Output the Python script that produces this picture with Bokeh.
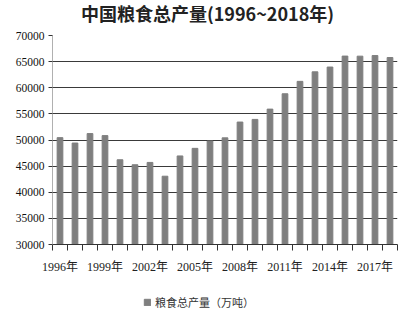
from bokeh.plotting import figure
from bokeh.models import FixedTicker, Legend, LegendItem, Range1d
from bokeh.core.properties import value
from bokeh.layouts import column
from bokeh.embed import file_html
from bokeh.resources import INLINE

years = list(range(1996, 2019))
output = [50454, 49417, 51230, 50839, 46218, 45264, 45706, 43070, 46947, 48402,
          49804, 50414, 53434, 53941, 55911, 58849, 61223, 63048, 63965, 66060,
          66044, 66161, 65789]
y_ticks = list(range(30000, 70001, 5000))
label_years = [1996, 1999, 2002, 2005, 2008, 2011, 2014, 2017]
title_text = "中国粮食总产量(1996~2018年)"
series_name = "粮食总产量（万吨）"
bar_color = "#7f7f7f"

idx = list(range(len(years)))

# title strip (its frame is aligned with the main frame: canvas x 52..397)
p0 = figure(width=409, height=24, output_backend="svg", toolbar_location=None,
            x_range=Range1d(52, 397), y_range=Range1d(0, 24),
            min_border_left=52, min_border_right=12, min_border_top=0, min_border_bottom=0)
p0.axis.visible = False
p0.grid.visible = False
p0.outline_line_color = None
p0.text(x=[207], y=[12], text=[title_text], text_align="center", text_baseline="middle",
        text_font=value("Noto Sans CJK SC"), text_font_size="18px", text_font_style="bold",
        text_color="#222222")

p = figure(width=409, height=256, output_backend="svg", toolbar_location=None,
           x_range=Range1d(-0.5, len(years) - 0.5), y_range=Range1d(30000, 70000),
           min_border_left=52, min_border_right=12, min_border_top=11, min_border_bottom=36)

p.vbar(x=idx, top=output, bottom=30000, width=0.38, color=bar_color)

p.outline_line_color = None
p.xgrid.grid_line_color = None
p.ygrid.grid_line_color = "#3a3a3a"
p.ygrid.grid_line_width = 1.2
p.yaxis.ticker = FixedTicker(ticks=y_ticks)
p.xaxis.ticker = FixedTicker(ticks=[years.index(y) for y in label_years],
                             minor_ticks=[i - 0.5 for i in range(len(years) + 1)])
p.xaxis.major_label_overrides = {years.index(y): f"{y}年" for y in label_years}
p.xaxis.major_tick_line_color = None
p.xaxis.minor_tick_out = 6
p.xaxis.minor_tick_in = 0
p.xaxis.minor_tick_line_color = "#333333"
p.xaxis.axis_line_color = "#333333"
p.xaxis.major_label_text_font = "Liberation Serif, Noto Sans CJK SC"
p.xaxis.major_label_text_font_size = "12px"
p.xaxis.major_label_text_color = "#222222"
p.xaxis.major_label_standoff = 9

p.yaxis.axis_line_color = "#b0b0b0"
p.yaxis.major_tick_out = 4
p.yaxis.major_tick_in = 0
p.yaxis.major_tick_line_color = "#333333"
p.yaxis.minor_tick_line_color = None
p.yaxis.major_label_text_font = "Liberation Serif"
p.yaxis.major_label_text_font_size = "11.5px"
p.yaxis.major_label_text_color = "#111111"
p.yaxis.major_label_standoff = 4

# legend strip below the chart (frame aligned with main frame, starting at canvas x 52)
p2 = figure(width=409, height=41, output_backend="svg", toolbar_location=None,
            x_range=Range1d(0, 1), y_range=Range1d(0, 1),
            min_border_left=52, min_border_right=12, min_border_top=0, min_border_bottom=0)
p2.axis.visible = False
p2.grid.visible = False
p2.outline_line_color = None
dummy = p2.vbar(x=[-5], top=[-5], width=0.5, color=bar_color)
legend = Legend(items=[LegendItem(label=series_name, renderers=[dummy])],
                orientation="horizontal", location=(91, 11),
                label_text_font="Noto Sans CJK SC", label_text_font_size="11px",
                label_text_color="#333333", glyph_width=8, glyph_height=8,
                label_standoff=4, padding=0, margin=0,
                border_line_color=None, background_fill_alpha=0)
p2.add_layout(legend)

open("out.html", "w").write(file_html(column(p0, p, p2, spacing=0), INLINE))
